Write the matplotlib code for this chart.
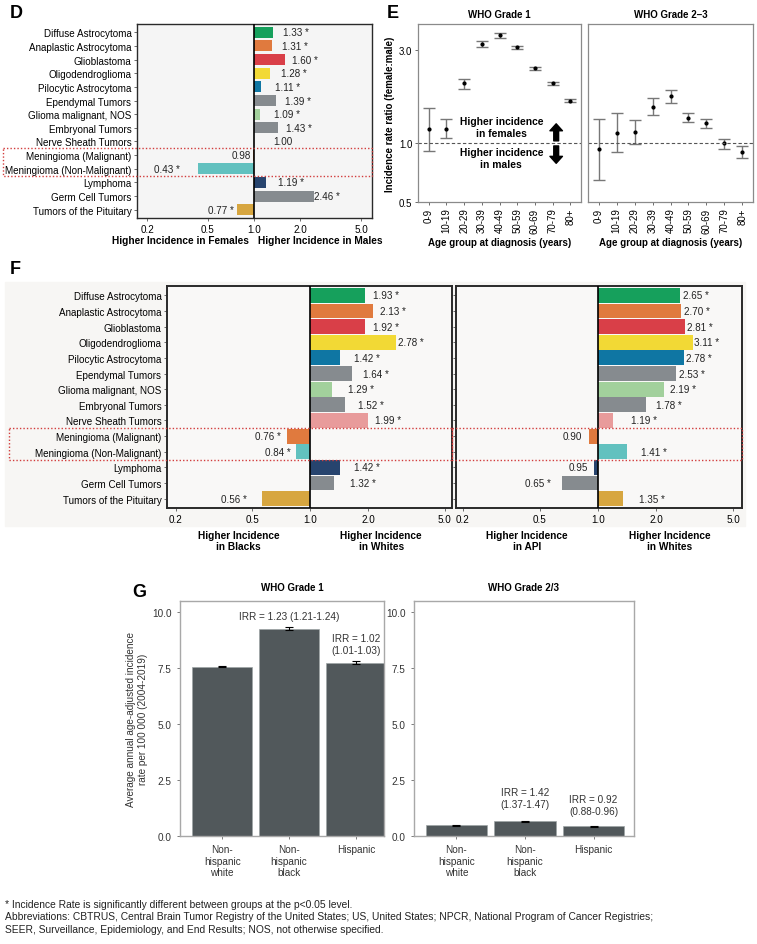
import numpy as np
import matplotlib.pyplot as plt
from matplotlib.patches import Rectangle
from matplotlib import transforms

plt.rcParams['font.family'] = ['Liberation Sans', 'DejaVu Sans']

# ---- data ----
tumors = ['Diffuse Astrocytoma', 'Anaplastic Astrocytoma', 'Glioblastoma',
          'Oligodendroglioma', 'Pilocytic Astrocytoma', 'Ependymal Tumors',
          'Glioma malignant, NOS', 'Embryonal Tumors', 'Nerve Sheath Tumors',
          'Meningioma (Malignant)', 'Meningioma (Non-Malignant)', 'Lymphoma',
          'Germ Cell Tumors', 'Tumors of the Pituitary']
tumor_colors = ['#16a05c', '#e07a3e', '#d93f48', '#f2d935', '#0f76a3', '#868b8f',
                '#a2d09c', '#868b8f', '#e89b9b', '#e07a3e', '#62c1bf', '#27446e',
                '#868b8f', '#d7a640']

sex_ratio = [1.33, 1.31, 1.60, 1.28, 1.11, 1.39, 1.09, 1.43, 1.00, 0.98, 0.43, 1.19, 2.46, 0.77]
sex_sig = [1, 1, 1, 1, 1, 1, 1, 1, 0, 0, 1, 1, 1, 1]

black_ratio = [1.93, 2.13, 1.92, 2.78, 1.42, 1.64, 1.29, 1.52, 1.99, 0.76, 0.84, 1.42, 1.32, 0.56]
black_sig = [1] * 14
api_ratio = [2.65, 2.70, 2.81, 3.11, 2.78, 2.53, 2.19, 1.78, 1.19, 0.90, 1.41, 0.95, 0.65, 1.35]
api_sig = [1, 1, 1, 1, 1, 1, 1, 1, 1, 0, 1, 0, 1, 1]

ages = ['0-9', '10-19', '20-29', '30-39', '40-49', '50-59', '60-69', '70-79', '80+']
g1_irr = [1.18, 1.19, 2.03, 3.23, 3.58, 3.11, 2.43, 2.03, 1.65]
g1_lo = [0.91, 1.06, 1.91, 3.13, 3.48, 3.05, 2.39, 2.00, 1.63]
g1_hi = [1.52, 1.34, 2.15, 3.35, 3.68, 3.17, 2.47, 2.06, 1.68]
g23_irr = [0.935, 1.13, 1.14, 1.54, 1.75, 1.35, 1.27, 1.00, 0.906]
g23_lo = [0.65, 0.90, 0.99, 1.40, 1.62, 1.28, 1.20, 0.94, 0.84]
g23_hi = [1.34, 1.44, 1.32, 1.70, 1.87, 1.43, 1.33, 1.05, 0.97]

groups = ['Non-\nhispanic\nwhite', 'Non-\nhispanic\nblack', 'Hispanic']
rate_g1 = [7.57, 9.27, 7.75]
rate_g1_lo = [7.54, 9.19, 7.68]
rate_g1_hi = [7.60, 9.36, 7.84]
rate_g23 = [0.47, 0.65, 0.43]
rate_g23_lo = [0.45, 0.62, 0.41]
rate_g23_hi = [0.49, 0.68, 0.45]
irr_g1 = ['', 'IRR = 1.23 (1.21-1.24)', 'IRR = 1.02\n(1.01-1.03)']
irr_g23 = ['', 'IRR = 1.42\n(1.37-1.47)', 'IRR = 0.92\n(0.88-0.96)']

W, H = 757, 945
fig = plt.figure(figsize=(W / 100, H / 100), dpi=100)


def box(x0, y0, x1, y1):
    return [x0 / W, 1 - y1 / H, (x1 - x0) / W, (y1 - y0) / H]


def fx(x):
    return x / W


def fy(y):
    return 1 - y / H


FS = 7.1


def ratio_panel(ax, vals, sig, height, face, lw_frame, show_names=True):
    n = len(vals)
    y = np.arange(n)
    widths = [v - 1 for v in vals]
    ax.barh(y, widths, left=1, height=height, color=tumor_colors, zorder=2)
    for i, v in enumerate(vals):
        lab = '%.2f' % v + (' *' if sig[i] else '')
        xt = v + 0.55 if v >= 1 else v - 0.16
        ax.text(xt, i, lab, ha='center', va='center', fontsize=FS, color='#222', zorder=3)
    ax.set_xscale('log')
    ax.set_xlim(0.175, 5.7)
    ax.set_ylim(n - 0.4, -0.6)
    ax.set_xticks([0.2, 0.5, 1, 2, 5])
    ax.set_xticklabels(['0.2', '0.5', '1.0', '2.0', '5.0'])
    ax.xaxis.set_minor_locator(plt.NullLocator())
    ax.set_yticks(y)
    if show_names:
        ax.set_yticklabels(tumors)
    else:
        ax.set_yticklabels([])
    ax.tick_params(labelsize=FS, length=2, width=0.6, color='#555', pad=2)
    ax.axvline(1, color='black', lw=1.2, zorder=4)
    ax.set_facecolor(face)
    for s in ax.spines.values():
        s.set_color('#2a2a2a')
        s.set_linewidth(lw_frame)


def dotted_box(ax, x0, x1):
    tr = transforms.blended_transform_factory(fig.transFigure, ax.transData)
    r = Rectangle((fx(x0), 8.5), fx(x1) - fx(x0), 2.0, transform=tr, fill=False,
                  ec='#d23c3c', lw=1.0, ls=(0, (1, 1.5)), clip_on=False, zorder=10)
    fig.add_artist(r)


# ---- panel D ----
axD = fig.add_axes(box(137, 25, 372, 219))
ratio_panel(axD, sex_ratio, sex_sig, 0.8, '#f5f5f5', 1.0)
axD.set_xlim(0.172, 5.9)
dotted_box(axD, 3, 372)
axD.annotate('Higher Incidence in Females', xy=(1, 0), xycoords=('data', 'axes fraction'),
             xytext=(-5, -22), textcoords='offset pixels', ha='right', va='center',
             fontsize=7.3, fontweight='bold')
axD.annotate('Higher Incidence in Males', xy=(1, 0), xycoords=('data', 'axes fraction'),
             xytext=(4, -22), textcoords='offset pixels', ha='left', va='center',
             fontsize=7.3, fontweight='bold')
fig.text(fx(10), fy(13), 'D', fontsize=13, fontweight='bold', va='center')

# ---- panel E ----
xa = np.arange(len(ages))
for k, (c, lo, hi, title) in enumerate([(g1_irr, g1_lo, g1_hi, 'WHO Grade 1'),
                                        (g23_irr, g23_lo, g23_hi, 'WHO Grade 2\u20133')]):
    ax = fig.add_axes(box(418, 25, 581, 203) if k == 0 else box(588, 25, 753, 203))
    c = np.array(c)
    ax.errorbar(xa, c, yerr=[c - np.array(lo), np.array(hi) - c], fmt='none',
                ecolor='#777777', elinewidth=1, capsize=4, capthick=1)
    ax.plot(xa, c, 'o', color='black', ms=2)
    ax.axhline(1, ls='--', color='#555555', lw=0.8, dashes=(3, 2))
    ax.set_yscale('log')
    ax.set_ylim(0.5, 4.1)
    ax.set_xlim(-0.6, 8.6)
    ax.set_yticks([0.5, 1, 3])
    ax.yaxis.set_minor_locator(plt.NullLocator())
    ax.set_xticks(xa)
    ax.set_xticklabels(ages, rotation=90)
    ax.tick_params(labelsize=7, length=2, width=0.6, color='#555', pad=2)
    if k == 0:
        ax.set_yticklabels(['0.5', '1.0', '3.0'])
        ax.set_ylabel('Incidence rate ratio (female:male)', fontsize=7, fontweight='bold', labelpad=3)
        ax.text(4.1, 1.21, 'Higher incidence\nin females', ha='center', va='center',
                fontsize=7.4, fontweight='bold')
        ax.text(4.1, 0.84, 'Higher incidence\nin males', ha='center', va='center',
                fontsize=7.4, fontweight='bold')
        arrow = dict(arrowstyle='simple,head_width=0.9,head_length=0.5,tail_width=0.35',
                     color='black', shrinkA=0, shrinkB=0)
        ax.annotate('', xy=(7.2, 1.26), xytext=(7.2, 1.03), arrowprops=arrow)
        ax.annotate('', xy=(7.2, 0.79), xytext=(7.2, 0.97), arrowprops=arrow)
    else:
        ax.set_yticklabels([])
        ax.tick_params(axis='y', length=0)
    ax.set_title(title, fontsize=7, fontweight='bold', pad=5)
    ax.set_xlabel('Age group at diagnosis (years)', fontsize=7, fontweight='bold', labelpad=3)
    for s in ax.spines.values():
        s.set_color('#8a8a8a')
        s.set_linewidth(0.9)
fig.text(fx(387), fy(14), 'E', fontsize=13, fontweight='bold', va='center')

# ---- panel F ----
fig.add_artist(Rectangle((fx(5), fy(527)), fx(740), 244 / H, transform=fig.transFigure,
                         color='#f7f6f4', zorder=-1))
axF1 = fig.add_axes(box(167, 287, 452, 509))
ratio_panel(axF1, black_ratio, black_sig, 0.95, '#f9f8f7', 1.4)
axF1.set_xlim(0.18, 5.45)
axF2 = fig.add_axes(box(456, 287, 742, 509))
ratio_panel(axF2, api_ratio, api_sig, 0.95, '#f9f8f7', 1.4, show_names=False)
axF2.set_xlim(0.184, 5.57)
dotted_box(axF1, 9, 452)
dotted_box(axF2, 452, 742)
for ax, left, right in [(axF1, 'Higher Incidence\nin Blacks', 'Higher Incidence\nin Whites'),
                        (axF2, 'Higher Incidence\nin API', 'Higher Incidence\nin Whites')]:
    x0, x1 = ax.get_xlim()
    ax.text(np.sqrt(x0 * 1.0), -0.145, left, transform=ax.get_xaxis_transform(),
            ha='center', va='center', fontsize=7.3, fontweight='bold', linespacing=1.1)
    ax.text(np.sqrt(x1 * 1.0), -0.145, right, transform=ax.get_xaxis_transform(),
            ha='center', va='center', fontsize=7.3, fontweight='bold', linespacing=1.1)
fig.text(fx(10), fy(270), 'F', fontsize=13, fontweight='bold', va='center')

# ---- panel G ----
xg = np.arange(len(groups))
for k, (r, lo, hi, irr, irr_y, title) in enumerate([
        (rate_g1, rate_g1_lo, rate_g1_hi, irr_g1, [0, 9.82, 8.59], 'WHO Grade 1'),
        (rate_g23, rate_g23_lo, rate_g23_hi, irr_g23, [0, 1.70, 1.38], 'WHO Grade 2/3')]):
    ax = fig.add_axes(box(180, 602, 384, 837) if k == 0 else box(414, 602, 634, 837))
    r = np.array(r)
    ax.bar(xg, r, width=0.9, color='#51585b', edgecolor='#9ea4a6', lw=0.5)
    ax.errorbar(xg, r, yerr=[r - np.array(lo), np.array(hi) - r], fmt='none',
                ecolor='black', elinewidth=0.8, capsize=3, capthick=0.8)
    for i, t in enumerate(irr):
        if t:
            ax.text(i, irr_y[i], t, ha='center', va='center', fontsize=7.2, color='#333')
    ax.set_ylim(0, 10.5)
    if k == 0:
        ax.set_xlim(-0.63, 2.42)
        ax.set_ylabel('Average annual age-adjusted incidence\nrate per 100 000 (2004-2019)',
                      fontsize=7.2, color='#333', labelpad=3)
        ax.set_title(title, fontsize=7, fontweight='bold', pad=8, x=0.55)
    else:
        ax.set_xlim(-0.62, 2.59)
        ax.set_title(title, fontsize=7, fontweight='bold', pad=8)
    ax.set_yticks([0, 2.5, 5, 7.5, 10])
    ax.set_yticklabels(['0.0', '2.5', '5.0', '7.5', '10.0'])
    ax.set_xticks(xg)
    ax.set_xticklabels(groups, linespacing=1.15)
    ax.tick_params(labelsize=7.2, length=2, width=0.6, color='#666', pad=4, labelcolor='#333')
    for s in ax.spines.values():
        s.set_color('#a8a8a8')
        s.set_linewidth(1)
fig.text(fx(132), fy(593), 'G', fontsize=13, fontweight='bold', va='center')

# ---- footnote ----
notes = ['* Incidence Rate is significantly different between groups at the p<0.05 level.',
         'Abbreviations: CBTRUS, Central Brain Tumor Registry of the United States; US, United States; '
         'NPCR, National Program of Cancer Registries;',
         'SEER, Surveillance, Epidemiology, and End Results; NOS, not otherwise specified.']
for i, t in enumerate(notes):
    fig.text(fx(5), fy(905 + 12.5 * i), t, fontsize=7.4, va='center', color='#222')

fig.savefig('out.png', dpi=100)
